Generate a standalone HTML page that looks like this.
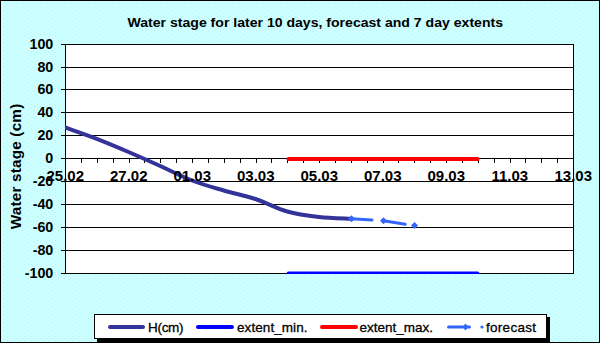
<!DOCTYPE html><html><head><meta charset="utf-8"><style>html,body{margin:0;padding:0;background:#fff;}svg{display:block;}text{font-family:"Liberation Sans",sans-serif;}</style></head><body>
<svg width="600" height="343" viewBox="0 0 600 343">
<defs><pattern id="dots" width="6" height="4" patternUnits="userSpaceOnUse"><rect width="6" height="4" fill="#CCFFFF"/><rect x="1" y="0" width="1" height="1" fill="#BEF2F2"/><rect x="4" y="2" width="1" height="1" fill="#BEF2F2"/></pattern><clipPath id="pc"><rect x="65" y="44" width="509" height="230"/></clipPath></defs>
<rect x="0" y="0" width="600" height="343" fill="url(#dots)"/>
<rect x="0" y="0" width="600" height="1" fill="#000"/><rect x="0" y="342" width="600" height="1" fill="#000"/><rect x="0" y="0" width="1" height="343" fill="#000"/><rect x="599" y="0" width="1" height="343" fill="#000"/>
<rect x="65" y="44" width="509" height="230" fill="#fff"/>
<rect x="61" y="44" width="513" height="1" fill="#000"/>
<rect x="61" y="67" width="513" height="1" fill="#000"/>
<rect x="61" y="89" width="513" height="1" fill="#000"/>
<rect x="61" y="112" width="513" height="1" fill="#000"/>
<rect x="61" y="135" width="513" height="1" fill="#000"/>
<rect x="61" y="158" width="513" height="1" fill="#000"/>
<rect x="61" y="181" width="513" height="1" fill="#000"/>
<rect x="61" y="204" width="513" height="1" fill="#000"/>
<rect x="61" y="227" width="513" height="1" fill="#000"/>
<rect x="61" y="250" width="513" height="1" fill="#000"/>
<rect x="61" y="273" width="513" height="1" fill="#000"/>
<rect x="65" y="44" width="1" height="230" fill="#000"/>
<rect x="573" y="44" width="1" height="230" fill="#000"/>
<rect x="81" y="159" width="1" height="4" fill="#000"/>
<rect x="97" y="159" width="1" height="4" fill="#000"/>
<rect x="113" y="159" width="1" height="4" fill="#000"/>
<rect x="129" y="159" width="1" height="4" fill="#000"/>
<rect x="144" y="159" width="1" height="4" fill="#000"/>
<rect x="160" y="159" width="1" height="4" fill="#000"/>
<rect x="176" y="159" width="1" height="4" fill="#000"/>
<rect x="192" y="159" width="1" height="4" fill="#000"/>
<rect x="208" y="159" width="1" height="4" fill="#000"/>
<rect x="224" y="159" width="1" height="4" fill="#000"/>
<rect x="240" y="159" width="1" height="4" fill="#000"/>
<rect x="256" y="159" width="1" height="4" fill="#000"/>
<rect x="271" y="159" width="1" height="4" fill="#000"/>
<rect x="287" y="159" width="1" height="4" fill="#000"/>
<rect x="303" y="159" width="1" height="4" fill="#000"/>
<rect x="319" y="159" width="1" height="4" fill="#000"/>
<rect x="335" y="159" width="1" height="4" fill="#000"/>
<rect x="351" y="159" width="1" height="4" fill="#000"/>
<rect x="367" y="159" width="1" height="4" fill="#000"/>
<rect x="383" y="159" width="1" height="4" fill="#000"/>
<rect x="398" y="159" width="1" height="4" fill="#000"/>
<rect x="414" y="159" width="1" height="4" fill="#000"/>
<rect x="430" y="159" width="1" height="4" fill="#000"/>
<rect x="446" y="159" width="1" height="4" fill="#000"/>
<rect x="462" y="159" width="1" height="4" fill="#000"/>
<rect x="478" y="159" width="1" height="4" fill="#000"/>
<rect x="494" y="159" width="1" height="4" fill="#000"/>
<rect x="510" y="159" width="1" height="4" fill="#000"/>
<rect x="525" y="159" width="1" height="4" fill="#000"/>
<rect x="541" y="159" width="1" height="4" fill="#000"/>
<rect x="557" y="159" width="1" height="4" fill="#000"/>
<text x="127.5" y="27" font-size="13.4" font-weight="bold" fill="#000" textLength="375.5" lengthAdjust="spacingAndGlyphs">Water stage for later 10 days, forecast and 7 day extents</text>
<text x="53.3" y="48.5" font-size="15" font-weight="bold" text-anchor="end" textLength="23.78" lengthAdjust="spacingAndGlyphs">100</text>
<text x="53.3" y="71.5" font-size="15" font-weight="bold" text-anchor="end" textLength="15.85" lengthAdjust="spacingAndGlyphs">80</text>
<text x="53.3" y="93.5" font-size="15" font-weight="bold" text-anchor="end" textLength="15.85" lengthAdjust="spacingAndGlyphs">60</text>
<text x="53.3" y="116.5" font-size="15" font-weight="bold" text-anchor="end" textLength="15.85" lengthAdjust="spacingAndGlyphs">40</text>
<text x="53.3" y="139.5" font-size="15" font-weight="bold" text-anchor="end" textLength="15.85" lengthAdjust="spacingAndGlyphs">20</text>
<text x="53.3" y="162.5" font-size="15" font-weight="bold" text-anchor="end" textLength="7.93" lengthAdjust="spacingAndGlyphs">0</text>
<text x="53.3" y="185.5" font-size="15" font-weight="bold" text-anchor="end" textLength="20.60" lengthAdjust="spacingAndGlyphs">-20</text>
<text x="53.3" y="208.5" font-size="15" font-weight="bold" text-anchor="end" textLength="20.60" lengthAdjust="spacingAndGlyphs">-40</text>
<text x="53.3" y="231.5" font-size="15" font-weight="bold" text-anchor="end" textLength="20.60" lengthAdjust="spacingAndGlyphs">-60</text>
<text x="53.3" y="254.5" font-size="15" font-weight="bold" text-anchor="end" textLength="20.60" lengthAdjust="spacingAndGlyphs">-80</text>
<text x="53.3" y="277.5" font-size="15" font-weight="bold" text-anchor="end" textLength="28.52" lengthAdjust="spacingAndGlyphs">-100</text>
<text transform="translate(20.6,166.5) rotate(-90)" x="0" y="0" font-size="15.3" textLength="125.5" font-weight="bold" text-anchor="middle">Water stage (cm)</text>
<g clip-path="url(#pc)"><path d="M65,127.5 C70.29,129.40 86.17,134.82 96.75,138.9 C107.33,142.98 117.92,147.48 128.5,152 C139.08,156.52 149.67,161.25 160.25,166 C170.83,170.75 181.42,176.42 192,180.5 C202.58,184.58 213.17,187.42 223.75,190.5 C234.33,193.58 244.92,195.50 255.5,199 C266.08,202.50 276.67,208.50 287.25,211.5 C297.83,214.50 308.42,215.78 319,217 C329.58,218.22 345.46,218.50 350.75,218.8" fill="none" stroke="#333399" stroke-width="4" stroke-linecap="round" stroke-linejoin="round"/><line x1="288.5" y1="159" x2="477.5" y2="159" stroke="#FF0000" stroke-width="4" stroke-linecap="round"/><line x1="288.5" y1="273.5" x2="477.5" y2="273.5" stroke="#0000FF" stroke-width="4" stroke-linecap="round"/><line x1="351.5" y1="218.8" x2="383.5" y2="220.8" stroke="#3366FF" stroke-width="3" stroke-linecap="round" stroke-dasharray="20.5 30"/><line x1="383.5" y1="220.8" x2="414.5" y2="225.6" stroke="#3366FF" stroke-width="3" stroke-linecap="round" stroke-dasharray="22 30"/><path d="M348.0,218.8 L351.5,215.3 L355.0,218.8 L351.5,222.3 Z" fill="#3366FF"/><path d="M380.0,220.8 L383.5,217.3 L387.0,220.8 L383.5,224.3 Z" fill="#3366FF"/><path d="M411.0,225.6 L414.5,222.1 L418.0,225.6 L414.5,229.1 Z" fill="#3366FF"/></g>
<text x="65.3" y="180.5" font-size="15" font-weight="bold" text-anchor="middle">25.02</text>
<text x="128.8" y="180.5" font-size="15" font-weight="bold" text-anchor="middle">27.02</text>
<text x="192.3" y="180.5" font-size="15" font-weight="bold" text-anchor="middle">01.03</text>
<text x="255.8" y="180.5" font-size="15" font-weight="bold" text-anchor="middle">03.03</text>
<text x="319.3" y="180.5" font-size="15" font-weight="bold" text-anchor="middle">05.03</text>
<text x="382.8" y="180.5" font-size="15" font-weight="bold" text-anchor="middle">07.03</text>
<text x="446.3" y="180.5" font-size="15" font-weight="bold" text-anchor="middle">09.03</text>
<text x="509.8" y="180.5" font-size="15" font-weight="bold" text-anchor="middle">11.03</text>
<text x="573.3" y="180.5" font-size="15" font-weight="bold" text-anchor="middle">13.03</text>
<rect x="97" y="317" width="453" height="25" fill="#000"/>
<rect x="94.5" y="314.5" width="452" height="24" fill="#fff" stroke="#000" stroke-width="1"/>
<line x1="110" y1="327" x2="143" y2="327" stroke="#333399" stroke-width="4" stroke-linecap="round"/>
<text x="148" y="332" font-size="13.5" stroke="#000" stroke-width="0.3" textLength="35.5">H(cm)</text>
<line x1="198" y1="327" x2="232" y2="327" stroke="#0000FF" stroke-width="4" stroke-linecap="round"/>
<text x="237" y="332" font-size="13.5" stroke="#000" stroke-width="0.3" textLength="70.5">extent_min.</text>
<line x1="322" y1="327" x2="356" y2="327" stroke="#FF0000" stroke-width="4" stroke-linecap="round"/>
<text x="359.6" y="332" font-size="13.5" stroke="#000" stroke-width="0.3" textLength="73.5">extent_max.</text>
<line x1="448.5" y1="327" x2="469.5" y2="327" stroke="#3366FF" stroke-width="3" stroke-linecap="round"/><circle cx="482" cy="327" r="1.6" fill="#3366FF"/>
<path d="M462.5,327 L465.5,323.5 L468.5,327 L465.5,330.5 Z" fill="#3366FF"/>
<text x="486" y="332" font-size="13.5" stroke="#000" stroke-width="0.3" textLength="50">forecast</text>
</svg></body></html>
